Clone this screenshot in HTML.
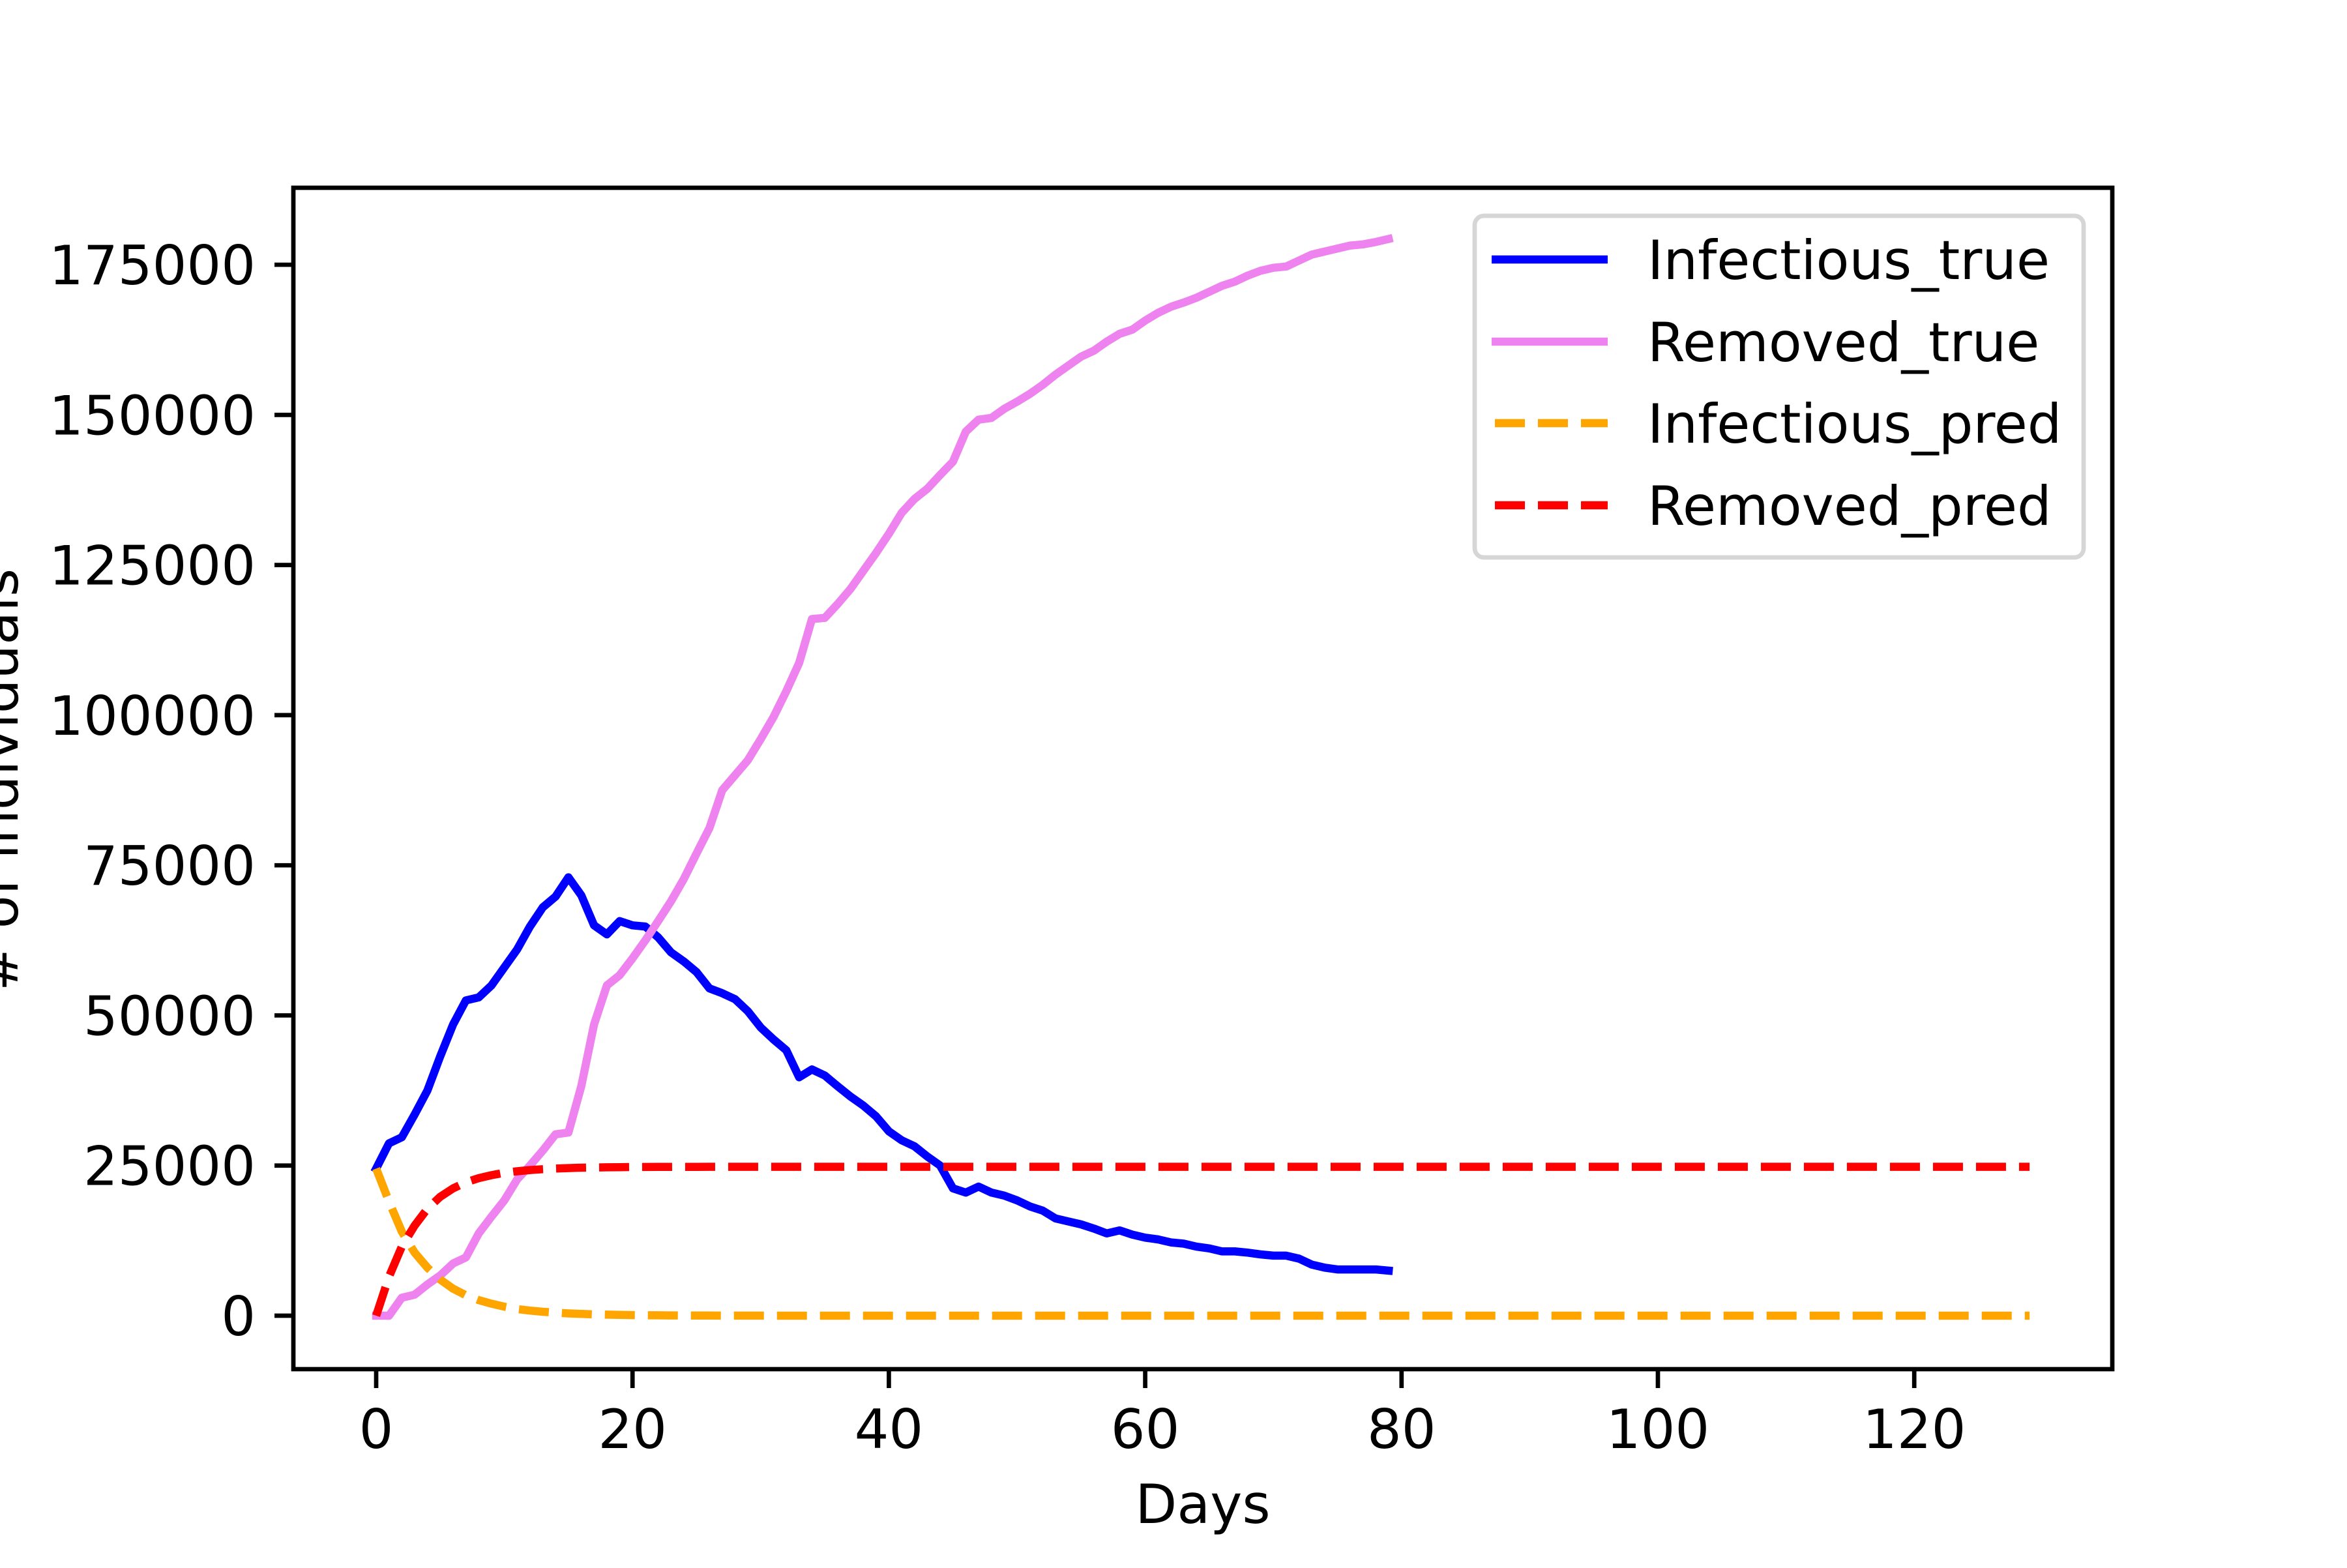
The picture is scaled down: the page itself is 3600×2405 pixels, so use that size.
<!DOCTYPE html>
<html><head><meta charset="utf-8"><style>
html,body{margin:0;padding:0;background:#fff;}
svg text{font-family:"DejaVu Sans","Liberation Sans",sans-serif;fill:#000;}
</style></head><body>
<svg id="chart" width="3600" height="2400" viewBox="0 0 3600 2400" xmlns="http://www.w3.org/2000/svg">
<rect x="0" y="0" width="3600" height="2400" fill="#fff"/>
<g id="plot"></g>
<g id="axes"></g>
</svg>
<script>
const xTicks = [0, 20, 40, 60, 80, 100, 120];
const yTicks = [0, 25000, 50000, 75000, 100000, 125000, 150000, 175000];
const infectiousTrue = [24500,28700,29700,33500,37500,43200,48500,52500,53000,55000,58000,61000,64800,68000,69800,73000,70000,65000,63500,65700,65000,64800,63000,60500,59000,57200,54500,53700,52700,50700,48000,46000,44200,39700,41000,40000,38200,36500,35000,33200,30700,29200,28200,26500,25000,21200,20500,21500,20500,20000,19200,18200,17500,16200,15700,15200,14500,13700,14200,13500,13000,12700,12200,12000,11500,11200,10700,10700,10500,10200,10000,10000,9500,8500,8000,7700,7700,7700,7700,7500];
const removedTrue = [0,0,3000,3500,5200,6700,8700,9700,13700,16500,19200,22700,25000,27500,30200,30500,38200,48500,55000,56700,59500,62500,65700,69000,72700,77000,81200,87500,90000,92500,96000,99700,104000,108700,116000,116200,118500,121000,124000,127000,130200,133700,136000,137700,140000,142200,147200,149200,149500,151000,152200,153500,155000,156700,158200,159700,160700,162200,163500,164200,165700,167000,168000,168700,169500,170500,171500,172200,173200,174000,174500,174700,175700,176700,177200,177700,178200,178400,178800,179300];
const infectiousPred = [24500,19000,14000,10500,8000,6000,4500,3400,2600,2000,1500,1100,850,650,500,380,290,220,170,130,100,80,60,45,35,25,20,15,10,8,6,5,4,3,2,2,1,1,1,1,0,0,0,0,0,0,0,0,0,0,0,0,0,0,0,0,0,0,0,0,0,0,0,0,0,0,0,0,0,0,0,0,0,0,0,0,0,0,0,0,0,0,0,0,0,0,0,0,0,0,0,0,0,0,0,0,0,0,0,0,0,0,0,0,0,0,0,0,0,0,0,0,0,0,0,0,0,0,0,0,0,0,0,0,0,0,0,0,0,0];
const removedPred = [0,6500,11500,15000,17800,19800,21200,22200,22900,23400,23800,24050,24250,24400,24500,24580,24640,24680,24710,24730,24750,24760,24770,24780,24785,24790,24795,24800,24800,24800,24800,24800,24800,24800,24800,24800,24800,24800,24800,24800,24800,24800,24800,24800,24800,24800,24800,24800,24800,24800,24800,24800,24800,24800,24800,24800,24800,24800,24800,24800,24800,24800,24800,24800,24800,24800,24800,24800,24800,24800,24800,24800,24800,24800,24800,24800,24800,24800,24800,24800,24800,24800,24800,24800,24800,24800,24800,24800,24800,24800,24800,24800,24800,24800,24800,24800,24800,24800,24800,24800,24800,24800,24800,24800,24800,24800,24800,24800,24800,24800,24800,24800,24800,24800,24800,24800,24800,24800,24800,24800,24800,24800,24800,24800,24800,24800,24800,24800,24800,24800];

const NS = 'http://www.w3.org/2000/svg';
const L = 450, R = 3240, T = 288, B = 2100;
const X0 = 577, SX = 19.66;
const Y0 = 2018, SY = 0.009211;
function xs(v){ return X0 + v * SX; }
function ys(v){ return Y0 - v * SY; }
const plot = document.getElementById('plot');
const axes = document.getElementById('axes');
function mk(tag, attrs, parent){ const e = document.createElementNS(NS, tag); for (const k in attrs) e.setAttribute(k, attrs[k]); parent.appendChild(e); return e; }

function drawSeries(vals, color, dash, name){
  const pts = vals.map((v,i)=> xs(i).toFixed(1)+','+ys(v).toFixed(1)).join(' ');
  const attrs = {points: pts, fill:'none', stroke: color, 'stroke-width': 12.5, 'stroke-linejoin':'round', 'stroke-linecap': dash ? 'butt' : 'square'};
  if (dash) attrs['stroke-dasharray'] = '46 20';
  const pl = mk('polyline', attrs, plot);
  
  
}
drawSeries(infectiousTrue, '#0000ff', false, 'infectious-true-line');
drawSeries(removedTrue, '#ee82ee', false, 'removed-true-line');
drawSeries(infectiousPred, '#ffa500', true, 'infectious-pred-line');
drawSeries(removedPred, '#ff0000', true, 'removed-pred-line');

xTicks.forEach(t => {
  const x = xs(t);
  const ln = mk('line', {x1:x, y1:B, x2:x, y2:B+29, stroke:'#000', 'stroke-width':6.7}, axes);
  
  
  const tx = mk('text', {x:x, y:2221, 'font-size':83, 'text-anchor':'middle'}, axes);
  tx.textContent = String(t);
  
  
});
yTicks.forEach(t => {
  const y = ys(t);
  const ln = mk('line', {x1:L-29, y1:y, x2:L, y2:y, stroke:'#000', 'stroke-width':6.7}, axes);
  
  
  const tx = mk('text', {x:392, y:y+30, 'font-size':83, 'text-anchor':'end'}, axes);
  tx.textContent = String(t);
  
  
});
const frame = mk('rect', {x:L, y:T, width:R-L, height:B-T, fill:'none', stroke:'#000', 'stroke-width':6.7}, axes);


</script>
<svg style="position:absolute;left:0;top:0" width="3600" height="2400" viewBox="0 0 3600 2400" xmlns="http://www.w3.org/2000/svg">
<text x="1845" y="2336" font-size="83" text-anchor="middle">Days</text>
<text transform="translate(27,1196) rotate(-90)" x="0" y="0" font-size="83" text-anchor="middle"># of individuals</text>
<g>
<rect x="2262" y="331" width="934" height="524" rx="14" fill="#fff" fill-opacity="0.8" stroke="#d6d6d6" stroke-width="6.7"/>
<line x1="2288" y1="398" x2="2466" y2="398" stroke="#0000ff" stroke-width="12.5"/>
<text x="2527" y="428" font-size="83">Infectious_true</text>
<line x1="2288" y1="524" x2="2466" y2="524" stroke="#ee82ee" stroke-width="12.5"/>
<text x="2527" y="554" font-size="83">Removed_true</text>
<line x1="2293" y1="649" x2="2466" y2="649" stroke="#ffa500" stroke-width="12.5" stroke-dasharray="46 20"/>
<text x="2527" y="679" font-size="83">Infectious_pred</text>
<line x1="2293" y1="775" x2="2466" y2="775" stroke="#ff0000" stroke-width="12.5" stroke-dasharray="46 20"/>
<text x="2527" y="805" font-size="83">Removed_pred</text>
</g>
</svg>
</body></html>
